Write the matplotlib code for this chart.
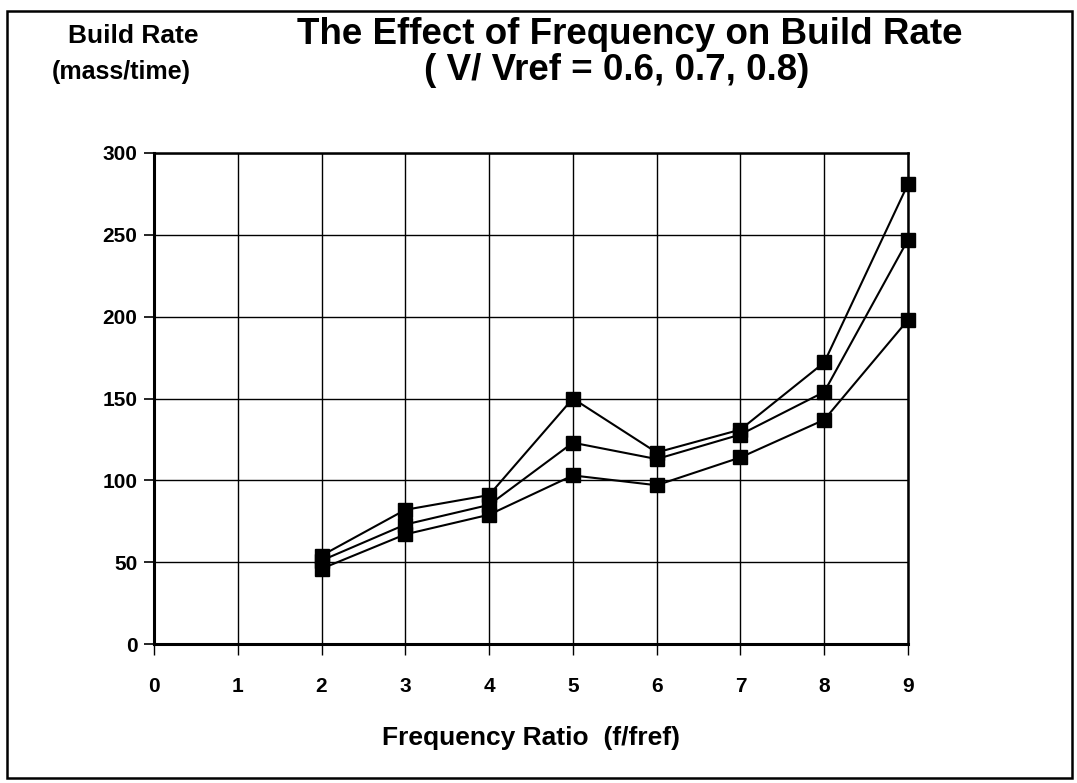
import matplotlib
matplotlib.use("Agg")
import matplotlib.pyplot as plt
from matplotlib.patches import Rectangle

plt.rcParams['font.family'] = ['Liberation Sans', 'DejaVu Sans']
plt.rcParams['font.weight'] = 'bold'

freq_ratio = [2, 3, 4, 5, 6, 7, 8, 9]
rate_v08 = [54, 82, 91, 150, 117, 131, 172, 281]
rate_v07 = [51, 73, 85, 123, 113, 128, 154, 247]
rate_v06 = [46, 67, 79, 103, 97, 114, 137, 198]
x_ticks = [0, 1, 2, 3, 4, 5, 6, 7, 8, 9]
y_ticks = [0, 50, 100, 150, 200, 250, 300]

W, H = 1077, 783
fig = plt.figure(figsize=(W / 100, H / 100), dpi=100)
L, R, T, B = 154, 908, 153, 644
ax = fig.add_axes([L / W, 1 - B / H, (R - L) / W, (B - T) / H])

for series in (rate_v08, rate_v07, rate_v06):
    ax.plot(freq_ratio, series, color='black', lw=1.5, marker='s',
            markersize=10.5, markerfacecolor='black', markeredgecolor='black',
            zorder=3, clip_on=False)

ax.set_xlim(0, 9)
ax.set_ylim(0, 300)
ax.set_xticks(x_ticks)
ax.set_yticks(y_ticks)
ax.set_xticklabels([str(v) for v in x_ticks], fontsize=15, fontweight='bold')
ax.set_yticklabels([str(v) for v in y_ticks], fontsize=15, fontweight='bold')
ax.tick_params(axis='y', direction='out', length=7, width=1.2, pad=5)
ax.tick_params(axis='x', direction='out', length=8, width=1.0, pad=16)
ax.grid(True, color='black', lw=1.0)
ax.set_axisbelow(True)
for side, lw in (('left', 2.2), ('bottom', 2.2), ('top', 1.8), ('right', 1.8)):
    ax.spines[side].set_linewidth(lw)
    ax.spines[side].set_color('black')

fig.text(531 / W, 1 - 738 / H, 'Frequency Ratio  (f/fref)', ha='center', va='center',
         fontsize=19, fontweight='bold')
fig.text(630 / W, 1 - 35 / H, 'The Effect of Frequency on Build Rate', ha='center',
         va='center', fontsize=26.5, fontweight='bold')
fig.text(617 / W, 1 - 71 / H, '( V/ Vref = 0.6, 0.7, 0.8)', ha='center', va='center',
         fontsize=26.5, fontweight='bold')
fig.text(133 / W, 1 - 36 / H, 'Build Rate', ha='center', va='center',
         fontsize=19, fontweight='bold')
fig.text(121 / W, 1 - 72 / H, '(mass/time)', ha='center', va='center',
         fontsize=18, fontweight='bold')

fig.add_artist(Rectangle((7 / W, 1 - 778 / H), (1072 - 7) / W, (778 - 11) / H,
                         transform=fig.transFigure, fill=False, edgecolor='black', lw=1.8))

fig.savefig('out.png', dpi=100)
